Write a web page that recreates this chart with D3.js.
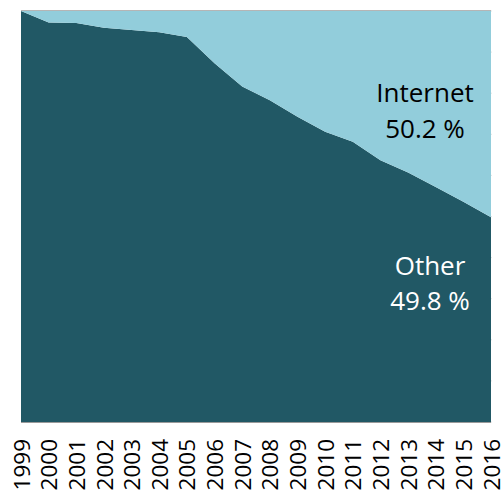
<!DOCTYPE html>
<html><head><meta charset="utf-8">
<script src="https://cdn.jsdelivr.net/npm/d3@7"></script>
<style>body{margin:0;background:#fff}svg{display:block}</style>
</head><body>
<svg id="c" width="502" height="495"></svg>
<script>
const years = [1999,2000,2001,2002,2003,2004,2005,2006,2007,2008,2009,2010,2011,2012,2013,2014,2015,2016];
const other = [100,97.2,97.1,95.9,95.4,94.8,93.7,87.3,81.6,78.3,74.3,70.6,68.2,63.7,60.7,57.2,53.6,49.8];
const internet = other.map(v => +(100 - v).toFixed(1));
const seriesNames = ["Other","Internet"];
const labels = [{name:"Internet", value:"50.2 %"},{name:"Other", value:"49.8 %"}];

const svg = d3.select("#c");
const m = {l:21, r:11, t:11, b:73};
const W = 502, H = 495;
const x = d3.scaleLinear().domain([1999,2016]).range([m.l, W-m.r]);
const y = d3.scaleLinear().domain([0,100]).range([H-m.b, m.t]);

const data = years.map((yr,i)=>({year:yr, Other:other[i], Internet:internet[i]}));
const stack = d3.stack().keys(seriesNames)(data);
const colors = {Other:"#215865", Internet:"#92cddb"};

// gridlines
svg.append("g").selectAll("line").data(d3.range(0,101,10)).join("line")
  .attr("x1", m.l).attr("x2", W-m.r+1).attr("y1", d=>y(d)).attr("y2", d=>y(d))
  .attr("stroke","#e4e4e4").attr("stroke-width",1);

const area = d3.area().x(d=>x(d.data.year)).y0(d=>y(d[0])).y1(d=>y(d[1]));
svg.append("g").selectAll("path").data(stack).join("path")
  .attr("d", area).attr("fill", d=>colors[d.key]);

// top and bottom border
svg.append("line").attr("x1",m.l).attr("x2",W-m.r).attr("y1",y(100)-0.5).attr("y2",y(100)-0.5)
  .attr("stroke","#b5b5b5").attr("stroke-width",1);
svg.append("line").attr("x1",m.l).attr("x2",W-m.r).attr("y1",y(0)+0.5).attr("y2",y(0)+0.5)
  .attr("stroke","#9a9a9a").attr("stroke-width",1);

// x axis
const xAxis = d3.axisBottom(x).tickValues(years).tickFormat(d3.format("d")).tickSize(0);
const gx = svg.append("g").attr("transform",`translate(0,${y(0)})`).call(xAxis);
gx.select(".domain").remove();
gx.selectAll("text")
  .attr("font-family","Open Sans, sans-serif").attr("font-size",22.5).attr("fill","#000")
  .attr("transform","rotate(-90)").attr("text-anchor","end")
  .attr("x",-17).attr("y",0).attr("dy","0.36em");

// labels
const fnt = "Open Sans, sans-serif";
const fs = 26;
svg.append("text").attr("x",425).attr("y",102).attr("text-anchor","middle")
  .attr("font-family",fnt).attr("font-size",fs).attr("fill","#000").text(labels[0].name);
svg.append("text").attr("x",425).attr("y",138).attr("text-anchor","middle")
  .attr("font-family",fnt).attr("font-size",fs).attr("fill","#000").text(labels[0].value);
svg.append("text").attr("x",430).attr("y",275).attr("text-anchor","middle")
  .attr("font-family",fnt).attr("font-size",fs).attr("fill","#fff").text(labels[1].name);
svg.append("text").attr("x",430).attr("y",310).attr("text-anchor","middle")
  .attr("font-family",fnt).attr("font-size",fs).attr("fill","#fff").text(labels[1].value);
</script>
</body></html>
